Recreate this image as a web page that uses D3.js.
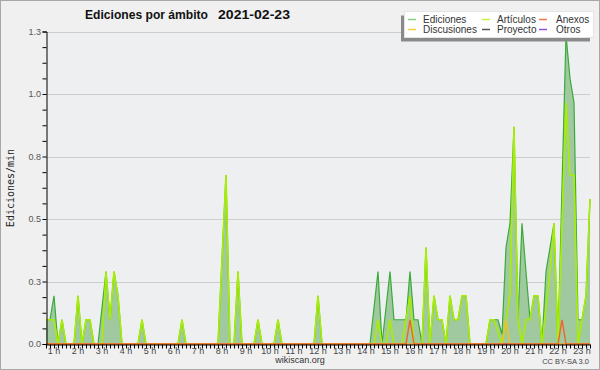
<!DOCTYPE html>
<html><head><meta charset="utf-8">
<script src="https://cdn.jsdelivr.net/npm/d3@7"></script>
<style>body{margin:0;background:#fff}svg{display:block}</style>
</head><body><svg id="c" width="600" height="370"></svg>
<script>
// 10-minute bins from 00:40 to 23:20
const times = d3.range(137).map(i => { const m = 40 + 10 * i; return String(Math.floor(m / 60)).padStart(2, '0') + ':' + String(m % 60).padStart(2, '0'); });
const hourLabels = ["1 h","2 h","3 h","4 h","5 h","6 h","7 h","8 h","9 h","10 h","11 h","12 h","13 h","14 h","15 h","16 h","17 h","18 h","19 h","20 h","21 h","22 h","23 h"];
const yTicks = [0, 0.25, 0.5, 0.75, 1.0, 1.25];
const yTickLabels = ["0.0","0.3","0.5","0.8","1.0","1.3"];

const ediciones = [
 .097,.097,.193,0,.097,0,0,0,.193,0,
 .097,.097,0,0,.145,.29,.097,.29,.193,0,
 0,0,0,0,.097,0,0,0,0,0,
 0,0,0,0,.097,0,0,0,0,0,
 0,0,0,0,.338,.676,0,0,.29,0,
 0,0,0,.097,0,0,0,0,.097,0,
 0,0,0,0,0,0,0,0,.193,0,
 0,0,0,0,0,0,0,0,0,0,
 0,0,.145,.29,0,.145,.29,.097,.097,.097,
 .097,.29,.097,.097,0,.386,0,.193,.097,.097,
 0,.193,.097,.097,.193,.193,0,0,0,0,
 0,.097,.097,.097,.039,.386,.483,.869,.097,.483,
 .29,.097,.193,.193,0,.29,.386,.483,0,.628,
 1.236,1.063,.966,.097,.097,.193,.58];
const articulos = [
 .097,.097,.097,0,.097,0,0,0,.193,0,
 .097,.097,0,0,0,.29,.097,.29,.193,0,
 0,0,0,0,.097,0,0,0,0,0,
 0,0,0,0,.097,0,0,0,0,0,
 0,0,0,0,.338,.676,0,0,.29,0,
 0,0,0,.097,0,0,0,0,.097,0,
 0,0,0,0,0,0,0,0,.193,0,
 0,0,0,0,0,0,0,0,0,0,
 0,0,0,.097,0,0,.097,0,0,0,
 .097,.193,0,0,0,.386,0,.193,.097,.097,
 0,.193,.097,.097,.193,.193,0,0,0,0,
 0,.097,.097,.048,0,.097,.193,.869,.097,0,
 .097,.097,.193,.193,0,.145,.29,.483,0,.483,
 .966,.676,.676,0,.097,.193,.58];
const anexos = [
 0,0,0,0,0,0,0,0,0,0, 0,0,0,0,0,0,0,0,0,0,
 0,0,0,0,0,0,0,0,0,0, 0,0,0,0,0,0,0,0,0,0,
 0,0,0,0,0,0,0,0,0,0, 0,0,0,0,0,0,0,0,0,0,
 0,0,0,0,0,0,0,0,0,0, 0,0,0,0,0,0,0,0,0,0,
 0,0,0,0,0,0,0,0,0,0, 0,.097,0,0,0,0,0,0,0,0,
 0,0,0,0,0,0,0,0,0,0, 0,0,0,0,0,0,0,0,0,0,
 0,0,0,0,0,0,0,0,0,.097, 0,0,0,0,0,0,0];
const discusiones = [
 0,0,0,0,0,0,0,0,0,0, 0,0,0,0,0,0,0,0,0,0,
 0,0,0,0,0,0,0,0,0,0, 0,0,0,0,0,0,0,0,0,0,
 0,0,0,0,0,0,0,0,0,0, 0,0,0,0,0,0,0,0,0,0,
 0,0,0,0,0,0,0,0,0,0, 0,0,0,0,0,0,0,0,0,0,
 0,0,0,0,0,0,0,0,0,0, 0,0,0,0,0,0,0,0,0,0,
 0,0,0,0,0,0,0,0,0,0, 0,0,0,0,0,.097,0,0,0,0,
 0,0,0,0,0,0,0,0,0,0, 0,0,0,0,0,0,0];
const proyecto = [
 0,0,0,0,0,0,0,0,0,0, 0,0,0,0,0,0,0,0,0,0,
 0,0,0,0,0,0,0,0,0,0, 0,0,0,0,0,0,0,0,0,0,
 0,0,0,0,0,0,0,0,0,0, 0,0,0,0,0,0,0,0,0,0,
 0,0,0,0,0,0,0,0,0,0, 0,0,0,0,0,0,0,0,0,0,
 0,0,0,0,0,0,0,0,0,0, 0,0,0,0,0,0,0,0,0,0,
 0,0,0,0,0,0,0,0,0,0, 0,0,0,0,0,0,0,0,0,0,
 0,0,0,0,0,0,0,0,0,0, 0,0,0,0,0,0,0];
const otros = [
 0,0,0,0,0,0,0,0,0,0, 0,0,0,0,0,0,0,0,0,0,
 0,0,0,0,0,0,0,0,0,0, 0,0,0,0,0,0,0,0,0,0,
 0,0,0,0,0,0,0,0,0,0, 0,0,0,0,0,0,0,0,0,0,
 0,0,0,0,0,0,0,0,0,0, 0,0,0,0,0,0,0,0,0,0,
 0,0,0,0,0,0,0,0,0,0, 0,0,0,0,0,0,0,0,0,0,
 0,0,0,0,0,0,0,0,0,0, 0,0,0,0,0,0,0,0,0,0,
 0,0,0,0,0,0,0,0,0,0, 0,0,0,0,0,0,0];

const legendItems = [
  {name: "Ediciones", color: "#86d086"},
  {name: "Discusiones", color: "#f5cf45"},
  {name: "Artículos", color: "#c6f04a"},
  {name: "Proyecto", color: "#555555"},
  {name: "Anexos", color: "#f07a45"},
  {name: "Otros", color: "#9650e6"}
];

const svg = d3.select("#c");
const W = 600, H = 370;
const L = 46, R = 590, T = 31.5, B = 344;

svg.append("rect").attr("x", 0.5).attr("y", 0.5).attr("width", W - 1).attr("height", H - 1)
  .attr("fill", "#f0f0f0").attr("stroke", "#a8a8a8");
svg.append("rect").attr("x", L).attr("y", T).attr("width", R - L).attr("height", B - T).attr("fill", "#eeeff1");

const x = d3.scaleLinear().domain([0, times.length - 1]).range([L, R]);
const y = d3.scaleLinear().domain([0, 1.25]).range([B, T]);

// grid
svg.append("g").selectAll("line").data(yTicks.slice(1)).join("line")
  .attr("x1", L).attr("x2", R).attr("y1", d => Math.round(y(d)) + 0.5).attr("y2", d => Math.round(y(d)) + 0.5)
  .attr("stroke", "#cdcdcd").attr("stroke-width", 1);

// area for Ediciones
const area = d3.area().x((d, i) => x(i)).y0(y(0)).y1(d => y(d));
const line = d3.line().x((d, i) => x(i)).y(d => y(d));
svg.append("path").datum(ediciones).attr("d", area).attr("fill", "#a0c9a0");
svg.append("path").datum(ediciones).attr("d", line).attr("fill", "none").attr("stroke", "#3aaa3a").attr("stroke-width", 1.2);
svg.append("path").datum(proyecto).attr("d", line).attr("fill", "none").attr("stroke", "#555555").attr("stroke-width", 1.2);
svg.append("path").datum(otros).attr("d", line).attr("fill", "none").attr("stroke", "#9650e6").attr("stroke-width", 1.2);
svg.append("path").datum(articulos).attr("d", line).attr("fill", "none").attr("stroke", "#a8ee00").attr("stroke-width", 1.6);
svg.append("path").datum(discusiones).attr("d", line).attr("fill", "none").attr("stroke", "#f2c21a").attr("stroke-width", 1.4);
svg.append("path").datum(anexos).attr("d", line).attr("fill", "none").attr("stroke", "#f06428").attr("stroke-width", 1.4);

// y axis
const yAxis = svg.append("g").attr("transform", `translate(${L + 0.5},0)`)
  .call(d3.axisLeft(y).tickValues(d3.range(0, 1.2501, 0.0625)).tickSize(4).tickFormat(""));
yAxis.select(".domain").attr("stroke", "#000");
yAxis.selectAll(".tick line").attr("stroke", "#000");
svg.append("g").selectAll("text").data(yTicks).join("text")
  .attr("x", 41).attr("y", d => y(d) + 3).attr("text-anchor", "end")
  .attr("font-family", "Liberation Sans, Arial, sans-serif").attr("font-size", 9).attr("fill", "#555")
  .text((d, i) => yTickLabels[i]);

// x axis
const xAxis = svg.append("g").attr("transform", `translate(0,${B + 0.5})`)
  .call(d3.axisBottom(x).tickValues(d3.range(times.length)).tickSize(4).tickFormat("").tickSizeOuter(0));
xAxis.select(".domain").attr("stroke", "#000");
xAxis.selectAll(".tick line").attr("stroke", "#000");
const hourIdx = hourLabels.map(h => times.indexOf(String(parseInt(h)).padStart(2, '0') + ':00'));
svg.append("g").selectAll("text").data(hourLabels).join("text")
  .attr("x", (d, i) => x(hourIdx[i])).attr("y", 354).attr("text-anchor", "middle")
  .attr("font-family", "Liberation Sans, Arial, sans-serif").attr("font-size", 9).attr("fill", "#444")
  .text(d => d);

// axis title
svg.append("text").attr("transform", "translate(13.5,188) rotate(-90)").attr("text-anchor", "middle")
  .attr("font-family", "DejaVu Sans Mono, monospace").attr("font-size", 10).attr("fill", "#222")
  .text("Ediciones/min");

// title
svg.append("text").attr("x", 85).attr("y", 18.5)
  .attr("font-family", "Liberation Sans, Arial, sans-serif").attr("font-weight", "bold").attr("font-size", 13)
  .attr("textLength", 123).attr("lengthAdjust", "spacingAndGlyphs").attr("fill", "#111")
  .text("Ediciones por ámbito");
svg.append("text").attr("x", 218).attr("y", 18.5)
  .attr("font-family", "Liberation Sans, Arial, sans-serif").attr("font-weight", "bold").attr("font-size", 13)
  .attr("textLength", 72).attr("lengthAdjust", "spacingAndGlyphs").attr("fill", "#111")
  .text("2021-02-23");

// footer
svg.append("text").attr("x", 300).attr("y", 363).attr("text-anchor", "middle")
  .attr("font-family", "Liberation Sans, Arial, sans-serif").attr("font-size", 9).attr("fill", "#333")
  .text("wikiscan.org");
svg.append("text").attr("x", 589).attr("y", 364).attr("text-anchor", "end")
  .attr("font-family", "Liberation Sans, Arial, sans-serif").attr("font-size", 7.5).attr("fill", "#444")
  .text("CC BY-SA 3.0");

// legend
const lg = svg.append("g");
lg.append("rect").attr("x", 401).attr("y", 15.5).attr("width", 189).attr("height", 26).attr("fill", "#8a8a8a");
lg.append("rect").attr("x", 404.5).attr("y", 11.5).attr("width", 189).attr("height", 26).attr("fill", "#fff").attr("stroke", "#e4e4e4");
const colX = [408, 482, 539];
const rowY = [19.5, 29.5];
legendItems.forEach((it, k) => {
  const c = Math.floor(k / 2), r = k % 2;
  lg.append("line").attr("x1", colX[c]).attr("x2", colX[c] + 8).attr("y1", rowY[r]).attr("y2", rowY[r])
    .attr("stroke", it.color).attr("stroke-width", 1.5);
  lg.append("text").attr("x", colX[c] + (c === 2 ? 17 : 15)).attr("y", rowY[r] + 3.5)
    .attr("font-family", "Liberation Sans, Arial, sans-serif").attr("font-size", 10).attr("fill", "#333")
    .text(it.name);
});
</script></body></html>
